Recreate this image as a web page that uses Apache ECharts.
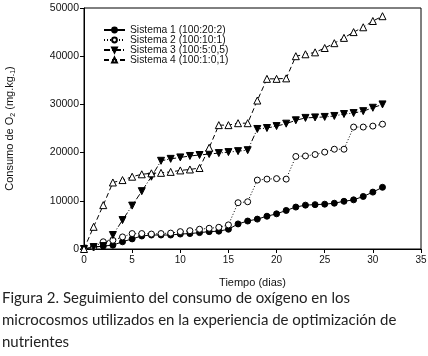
<!DOCTYPE html>
<html><head><meta charset="utf-8">
<script src="https://cdn.jsdelivr.net/npm/echarts@6/dist/echarts.min.js"></script>
<style>html,body{margin:0;padding:0;background:#fff}#c{width:428px;height:356px}</style>
</head><body><div id="c"></div>
<script>
const days = [0,1,2,3,4,5,6,7,8,9,10,11,12,13,14,15,16,17,18,19,20,21,22,23,24,25,26,27,28,29,30,31];
const seriesNames = ['Sistema 1 (100:20:2)','Sistema 2 (100:10:1)','Sistema 3 (100:5:0,5)','Sistema 4 (100:1:0,1)'];
const s1 = [0,400,600,800,1500,2100,2700,2900,2900,2900,3100,3200,3400,3600,3700,4100,5200,5800,6200,6800,7300,8000,8700,9100,9200,9300,9500,9900,10200,10900,11800,12800];
const s2 = [0,400,1500,1800,2500,3200,3200,3100,3200,3300,3600,3800,4100,4300,4500,5000,9600,9800,14300,14500,14600,14500,19200,19300,19600,20100,20700,20700,25300,25300,25500,25900];
const s3 = [0,400,600,2900,6000,9000,12000,15000,18300,18700,19000,19300,19500,19700,19900,20100,20300,20500,24900,25100,25500,26000,26700,27200,27300,27400,27600,28000,28200,28600,29300,30000];
const s4 = [0,4600,9100,13800,14300,15000,15500,15700,15800,16000,16300,16500,16800,21000,25700,25700,26100,26100,30800,35300,35300,35400,40000,40400,40800,41700,42700,43800,45000,46000,47300,48300];
const xTicks = [0,5,10,15,20,25,30,35];
const yTicks = [0,10000,20000,30000,40000,50000];
const captionLines = ['Figura 2. Seguimiento del consumo de oxígeno en los','microcosmos utilizados en la experiencia de optimización de','nutrientes'];

const pair = a => days.map((d,i)=>[d,a[i]]);
const FONT = '"Liberation Sans", Arial, sans-serif';
const chart = echarts.init(document.getElementById('c'), null, {renderer:'canvas'});
const downTri = 'path://M0,0 L10,0 L5,9 Z';
const upTri = 'path://M5,0 L10,9 L0,9 Z';
function mk(name, data, symbol, size, fill, type){
  return {name, type:'line', data: pair(data), symbol, symbolSize:size, showSymbol:true,
    itemStyle:{color:fill, borderColor:'#000', borderWidth:1},
    lineStyle:{color:'#000', width:1, type},
    emphasis:{disabled:true}, animation:false};
}
chart.setOption({
  animation:false,
  grid:{left:84, right:7, top:8, bottom:107, containLabel:false, outerBoundsMode:'none',
    show:true, borderColor:'#000', borderWidth:1, backgroundColor:'transparent'},
  legend:{orient:'vertical', left:103, top:25, itemWidth:21, itemHeight:6, itemGap:0, padding:0,
    textStyle:{fontFamily:FONT, fontSize:10.3, lineHeight:9.5, color:'#111', padding:[0,0,0,0]}, data: seriesNames},
  xAxis:{type:'value', min:xTicks[0], max:xTicks[xTicks.length-1], interval:5,
    name:'Tiempo (dias)', nameLocation:'middle', nameGap:28,
    nameTextStyle:{fontFamily:FONT, fontSize:11, color:'#111'},
    axisLine:{lineStyle:{color:'#000', width:1}}, axisTick:{inside:false, length:4, lineStyle:{color:'#000'}},
    axisLabel:{fontFamily:FONT, fontSize:10, color:'#111', margin:6}, splitLine:{show:false}},
  yAxis:{type:'value', min:yTicks[0], max:yTicks[yTicks.length-1], interval:10000,
    name:'{n|Consumo de O}{s|2}{n| (mg.kg}{s|-1}{n|)}', nameLocation:'middle', nameGap:67, nameRotate:90,
    nameTextStyle:{fontFamily:FONT, fontSize:11, color:'#111',
      rich:{n:{fontFamily:FONT, fontSize:11, color:'#111'}, s:{fontFamily:FONT, fontSize:7, color:'#111', verticalAlign:'bottom', padding:[8,0,0,0]}}},
    axisLine:{lineStyle:{color:'#000', width:1}}, axisTick:{inside:false, length:4, lineStyle:{color:'#000'}},
    axisLabel:{fontFamily:FONT, fontSize:10.5, color:'#111', margin:5, formatter: v => String(v)}, splitLine:{show:false}},
  series:[
    mk(seriesNames[0], s1, 'circle', 6, '#000', 'solid'),
    mk(seriesNames[1], s2, 'circle', 6, '#fff', [1,2]),
    mk(seriesNames[2], s3, downTri, 7, '#000', [6,2,1,2]),
    mk(seriesNames[3], s4, upTri, 7, '#fff', [5,3])
  ],
  graphic: captionLines.map((t,i)=>({type:'text', left:2, top:291+i*22, silent:true,
    style:{text:t, fontFamily:'Lato, "Open Sans", sans-serif', fontSize:15, fill:'#222'}}))
});
</script></body></html>
